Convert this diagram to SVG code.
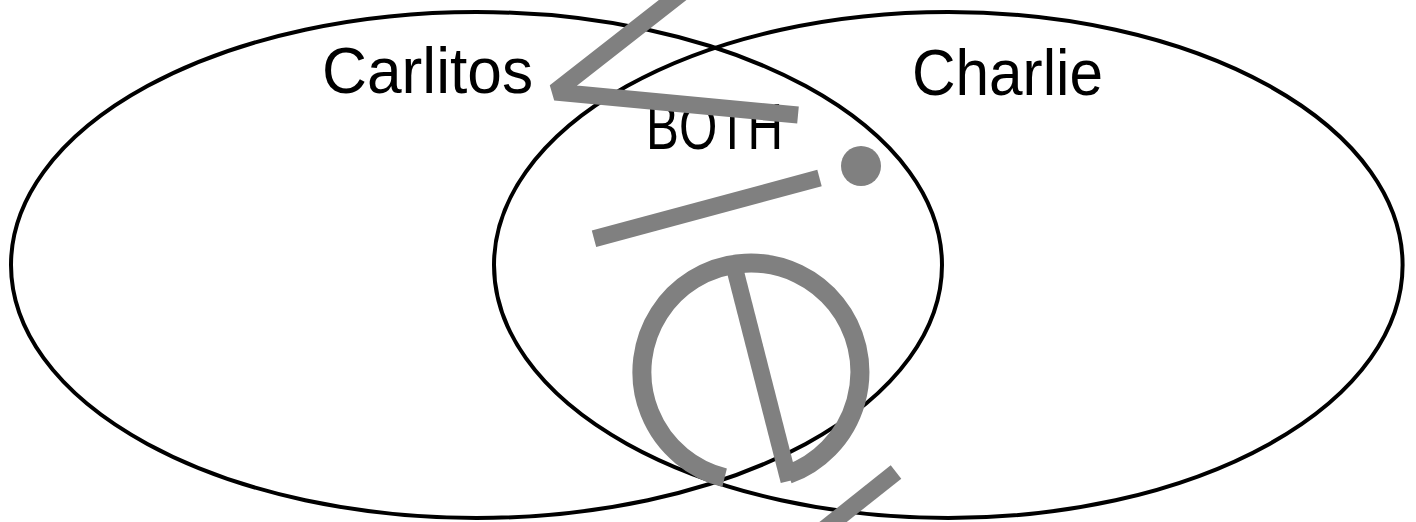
<svg xmlns="http://www.w3.org/2000/svg" width="1416" height="522" viewBox="0 0 1416 522">
  <style>
    .set { fill: none; stroke: #000; stroke-width: 4; }
    .label { font-family: "Liberation Sans", Arial, sans-serif; font-size: 64px; fill: #000; }
    .wm { fill: none; stroke: #808080; stroke-linecap: butt; }
  </style>
  <rect width="1416" height="522" fill="#fff"/>
  <g id="node-carlitos">
    <ellipse class="set" cx="476.5" cy="265" rx="465.5" ry="253"/>
    <text class="label" x="322" y="92.5" textLength="211" lengthAdjust="spacingAndGlyphs">Carlitos</text>
  </g>
  <g id="node-charlie">
    <ellipse class="set" cx="948.3" cy="265" rx="454.3" ry="253"/>
    <text class="label" x="912" y="95" textLength="191" lengthAdjust="spacingAndGlyphs">Charlie</text>
  </g>
  <g id="node-both">
    <text class="label" x="646" y="148.5" textLength="137" lengthAdjust="spacingAndGlyphs">BOTH</text>
  </g>
  <g id="connectors"></g>
  <g id="watermark">
    <polyline class="wm" points="688,-12 555,92 798,115" stroke-width="17" stroke-linejoin="bevel"/>
    <line class="wm" x1="594" y1="238.7" x2="819.5" y2="178" stroke-width="17"/>
    <circle cx="861" cy="166" r="20" fill="#808080"/>
    <path class="wm" d="M724.6,477.8 A109,109 0 1 1 788.3,474.4" stroke-width="19"/>
    <line class="wm" x1="734" y1="266" x2="789" y2="481" stroke-width="17"/>
    <line class="wm" x1="896" y1="472" x2="823" y2="530" stroke-width="17"/>
  </g>
</svg>
